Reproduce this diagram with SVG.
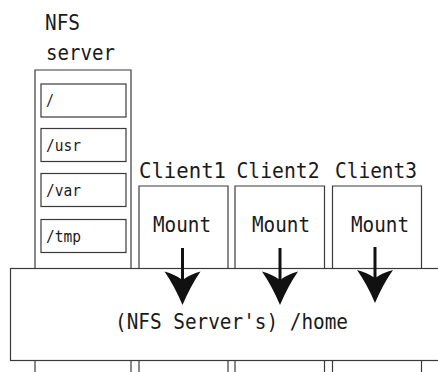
<svg xmlns="http://www.w3.org/2000/svg" width="438" height="372" viewBox="0 0 438 372">
  <style>
    .box { fill: #ffffff; stroke: #3a3a3a; stroke-width: 1.2; }
    .edge { fill: none; stroke: #3a3a3a; stroke-width: 1.2; }
    .big { font-family: "DejaVu Sans Mono", "Liberation Mono", monospace; font-size: 22px; fill: #1a1a1a; }
    .small { font-family: "DejaVu Sans Mono", "Liberation Mono", monospace; font-size: 16.5px; fill: #1a1a1a; }
    .arrow { fill: #111111; }
    .shaft { stroke: #111111; stroke-width: 3; }
  </style>

  <!-- NFS server column -->
  <g id="nfs-server">
    <text class="big" x="45" y="30" textLength="35" lengthAdjust="spacingAndGlyphs">NFS</text>
    <text class="big" x="46" y="60" textLength="69" lengthAdjust="spacingAndGlyphs">server</text>
    <path class="edge" d="M35,372 V70 H131 V372"/>
    <g id="dir-root">
      <rect class="box" x="41" y="84" width="85" height="33"/>
      <text class="small" x="46" y="106" textLength="8" lengthAdjust="spacingAndGlyphs">/</text>
    </g>
    <g id="dir-usr">
      <rect class="box" x="41" y="128.5" width="85" height="33"/>
      <text class="small" x="46" y="150.5" textLength="35" lengthAdjust="spacingAndGlyphs">/usr</text>
    </g>
    <g id="dir-var">
      <rect class="box" x="41" y="173.5" width="85" height="33"/>
      <text class="small" x="46" y="195.5" textLength="35" lengthAdjust="spacingAndGlyphs">/var</text>
    </g>
    <g id="dir-tmp">
      <rect class="box" x="41" y="219.5" width="85" height="33"/>
      <text class="small" x="46" y="241.5" textLength="35" lengthAdjust="spacingAndGlyphs">/tmp</text>
    </g>
  </g>

  <!-- client columns -->
  <g id="client1">
    <text class="big" x="139" y="178" textLength="87" lengthAdjust="spacingAndGlyphs">Client1</text>
    <path class="edge" d="M139,372 V186 H228 V372"/>
    <text class="big" x="153" y="232" textLength="58" lengthAdjust="spacingAndGlyphs">Mount</text>
  </g>
  <g id="client2">
    <text class="big" x="236.5" y="178" textLength="83" lengthAdjust="spacingAndGlyphs">Client2</text>
    <path class="edge" d="M235,372 V186 H324.5 V372"/>
    <text class="big" x="252" y="232" textLength="58" lengthAdjust="spacingAndGlyphs">Mount</text>
  </g>
  <g id="client3">
    <text class="big" x="335" y="178" textLength="82" lengthAdjust="spacingAndGlyphs">Client3</text>
    <path class="edge" d="M332.5,372 V186 H421.5 V372"/>
    <text class="big" x="351" y="232" textLength="58" lengthAdjust="spacingAndGlyphs">Mount</text>
  </g>

  <!-- shared /home export -->
  <g id="home">
    <rect class="box" x="10.5" y="268.5" width="440" height="92"/>
    <text class="big" x="115" y="329" textLength="233" lengthAdjust="spacingAndGlyphs">(NFS Server's) /home</text>
  </g>

  <!-- mount arrows -->
  <g id="connectors">
    <g transform="translate(182.5,0)">
      <line class="shaft" x1="0" y1="248" x2="0" y2="284"/>
      <path class="arrow" d="M0,305 Q-8,286 -18,271.5 Q-8,274 0,280 Q8,274 18,271.5 Q8,286 0,305 Z"/>
    </g>
    <g transform="translate(280,0)">
      <line class="shaft" x1="0" y1="248" x2="0" y2="284"/>
      <path class="arrow" d="M0,305 Q-8,286 -18,271.5 Q-8,274 0,280 Q8,274 18,271.5 Q8,286 0,305 Z"/>
    </g>
    <g transform="translate(375,0)">
      <line class="shaft" x1="0" y1="247" x2="0" y2="284"/>
      <path class="arrow" d="M0,303 Q-8,284 -18,270 Q-8,272.5 0,278 Q8,272.5 18,270 Q8,284 0,303 Z"/>
    </g>
  </g>
</svg>
